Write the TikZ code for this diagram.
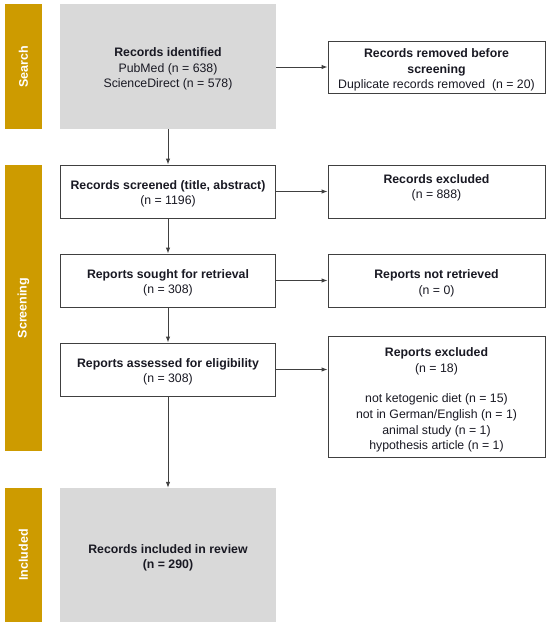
\documentclass[tikz,border=0pt]{standalone}
\usepackage{fontspec}
\setmainfont{Liberation Sans}
\usetikzlibrary{arrows.meta}
\definecolor{gold}{RGB}{205,155,0}
\definecolor{boxgrey}{RGB}{217,217,217}
\definecolor{edge}{RGB}{64,64,64}
\definecolor{ink}{RGB}{25,25,35}
\tikzset{
  band/.style={fill=gold, draw=none, minimum width=37pt, inner sep=0pt},
  bandtxt/.style={text=white, font=\fontsize{12.5}{14}\selectfont\bfseries, rotate=90},
  greybox/.style={fill=boxgrey, draw=none, minimum width=216pt, inner sep=0pt},
  wbox/.style={fill=white, draw=edge, line width=0.9pt, inner sep=0pt},
  txt/.style={align=center, font=\fontsize{12.3}{15.6}\selectfont, text=ink, inner sep=0pt},
  arr/.style={draw=edge, line width=1pt, -{Latex[length=6pt,width=4.5pt]}}
}
\begin{document}
\begin{tikzpicture}[x=1pt,y=-1pt]
\useasboundingbox (0,0) rectangle (550,627);
% bands
\node[band, minimum height=125pt] (bs) at (23.5,66.5) {};
\node[bandtxt] at (bs.center) {Search};
\node[band, minimum height=286pt] (bsc) at (23.5,308) {};
\node[bandtxt] at (bsc.center) {Screening};
\node[band, minimum height=134pt] (bi) at (23.5,555) {};
\node[bandtxt] at (bi.center) {Included};
% left column
\node[greybox, minimum height=125pt] (rid) at (168,66.5) {};
\node[txt] at ([yshift=-2.5pt]rid.center) {\textbf{Records identified}\\PubMed (n = 638)\\ScienceDirect (n = 578)};
\node[wbox, minimum width=215pt, minimum height=53pt] (rsc) at (168,191.5) {};
\node[txt] at ([yshift=-2.5pt]rsc.center) {\textbf{Records screened (title, abstract)}\\(n = 1196)};
\node[wbox, minimum width=215pt, minimum height=53pt] (rso) at (168,280.5) {};
\node[txt] at ([yshift=-2.5pt]rso.center) {\textbf{Reports sought for retrieval}\\(n = 308)};
\node[wbox, minimum width=215pt, minimum height=53pt] (ras) at (168,369.5) {};
\node[txt] at ([yshift=-2.5pt]ras.center) {\textbf{Reports assessed for eligibility}\\(n = 308)};
\node[greybox, minimum height=134pt] (rin) at (168,555) {};
\node[txt] at ([yshift=-3pt]rin.center) {\textbf{Records included in review}\\\textbf{(n = 290)}};
% right column
\node[wbox, minimum width=217pt, minimum height=52pt] (rrm) at (436.5,67) {};
\node[txt] at ([yshift=-3pt]rrm.center) {\textbf{Records removed before}\\\textbf{screening}\\Duplicate records removed~~(n = 20)};
\node[wbox, minimum width=217pt, minimum height=53pt] (rex) at (436.5,191.5) {};
\node[txt, anchor=north] at ([yshift=-9.5pt]rex.north) {\textbf{Records excluded}\\(n = 888)};
\node[wbox, minimum width=217pt, minimum height=53pt] (rnr) at (436.5,280.5) {};
\node[txt, anchor=north] at ([yshift=-16pt]rnr.north) {\textbf{Reports not retrieved}\\(n = 0)};
\node[wbox, minimum width=217pt, minimum height=121pt] (rpe) at (436.5,396.5) {};
\node[txt, anchor=north] at ([yshift=-12pt]rpe.north) {\textbf{Reports excluded}\\(n = 18)\\[15pt]not ketogenic diet (n = 15)\\not in German/English (n = 1)\\animal study (n = 1)\\hypothesis article (n = 1)};
% arrows
\draw[arr] (rid.east |- rrm.west) -- (rrm.west);
\draw[arr] (rid.south) -- (rsc.north);
\draw[arr] (rsc.south) -- (rso.north);
\draw[arr] (rso.south) -- (ras.north);
\draw[arr] (ras.south) -- (rin.north);
\draw[arr] (rsc.east) -- (rex.west);
\draw[arr] (rso.east) -- (rnr.west);
\draw[arr] (ras.east) -- (ras.east -| rpe.west);
\end{tikzpicture}
\end{document}
